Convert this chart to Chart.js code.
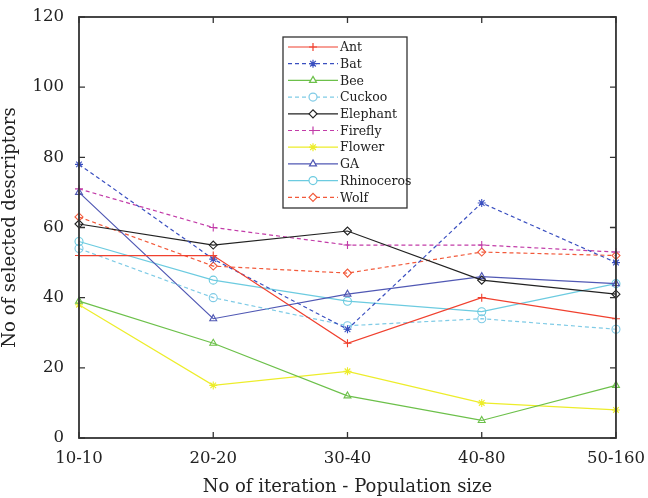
<!DOCTYPE html>
<html>
<head>
<meta charset="utf-8">
<script src="https://cdn.jsdelivr.net/npm/chart.js@4/dist/chart.umd.min.js"></script>
<style>
  html, body { margin: 0; padding: 0; background: #fff; }
</style>
</head>
<body>
<canvas id="chart" width="648" height="498"></canvas>
<script>
const categories = ["10-10", "20-20", "30-40", "40-80", "50-160"];
const yTicks = [0, 20, 40, 60, 80, 100, 120];

const ant = [52, 52, 27, 40, 34];
const bat = [78, 51, 31, 67, 50];
const bee = [39, 27, 12, 5, 15];
const cuckoo = [54, 40, 32, 34, 31];
const elephant = [61, 55, 59, 45, 41];
const firefly = [71, 60, 55, 55, 53];
const flower = [38, 15, 19, 10, 8];
const ga = [70, 34, 41, 46, 44];
const rhinoceros = [56, 45, 39, 36, 44];
const wolf = [63, 49, 47, 53, 52];

function serie(label, data, color, dashed, marker) {
  return {
    label: label,
    data: data,
    borderColor: color,
    pointBorderColor: color,
    pointBackgroundColor: (marker === "star") ? color : "rgba(255,255,255,0)",
    borderWidth: 1.2,
    borderDash: dashed ? [4, 3] : [],
    pointStyle: marker,
    pointRadius: 4,
    pointBorderWidth: 1.1,
    tension: 0,
    clip: false,
  };
}

const datasets = [
  serie("Ant", ant, "#f0402e", false, "cross"),
  serie("Bat", bat, "#3a4fc0", true, "star"),
  serie("Bee", bee, "#6cc04a", false, "triangle"),
  serie("Cuckoo", cuckoo, "#7fcbe6", true, "circle"),
  serie("Elephant", elephant, "#222222", false, "rectRot"),
  serie("Firefly", firefly, "#c23ca8", true, "cross"),
  serie("Flower", flower, "#eded2a", false, "star"),
  serie("GA", ga, "#5058b4", false, "triangle"),
  serie("Rhinoceros", rhinoceros, "#6ccbe0", false, "circle"),
  serie("Wolf", wolf, "#f2593a", true, "rectRot"),
];

// matlab-like frame with inward ticks
const frame = {
  id: "frame",
  afterDraw(chart) {
    const ctx = chart.ctx, a = chart.chartArea;
    const xs = chart.scales.x, ys = chart.scales.y;
    ctx.save();
    ctx.strokeStyle = "#333";
    ctx.lineWidth = 1.8;
    ctx.setLineDash([]);
    ctx.strokeRect(a.left, a.top, a.right - a.left, a.bottom - a.top);
    ctx.lineWidth = 1.3;
    ctx.beginPath();
    yTicks.forEach(v => {
      const y = ys.getPixelForValue(v);
      ctx.moveTo(a.left, y); ctx.lineTo(a.left + 6, y);
      ctx.moveTo(a.right, y); ctx.lineTo(a.right - 6, y);
    });
    categories.forEach((c, i) => {
      const x = xs.getPixelForValue(i);
      ctx.moveTo(x, a.bottom); ctx.lineTo(x, a.bottom - 6);
      ctx.moveTo(x, a.top); ctx.lineTo(x, a.top + 6);
    });
    ctx.stroke();
    ctx.restore();
  }
};

const legendBox = {
  id: "legendBox",
  afterDraw(chart) {
    const ctx = chart.ctx, a = chart.chartArea;
    const x0 = a.left + 204, y0 = a.top + 20;
    const w = 124, h = 171, rowH = 16.7;
    ctx.save();
    ctx.fillStyle = "#fff";
    ctx.fillRect(x0, y0, w, h);
    ctx.strokeStyle = "#333";
    ctx.lineWidth = 1.3;
    ctx.strokeRect(x0, y0, w, h);
    ctx.font = "12.5px 'DejaVu Serif'";
    ctx.textBaseline = "middle";
    chart.data.datasets.forEach((ds, i) => {
      const y = y0 + 10 + i * rowH;
      ctx.strokeStyle = ds.borderColor;
      ctx.lineWidth = 1.2;
      ctx.setLineDash(ds.borderDash);
      ctx.beginPath();
      ctx.moveTo(x0 + 5, y); ctx.lineTo(x0 + 55, y);
      ctx.stroke();
      ctx.setLineDash([]);
      ctx.fillStyle = ds.pointStyle === "star" ? ds.borderColor : "#fff";
      Chart.helpers.drawPoint(ctx, { pointStyle: ds.pointStyle, radius: 4, borderWidth: 1.1, rotation: 0 }, x0 + 30, y);
      ctx.fillStyle = "#222";
      ctx.fillText(ds.label, x0 + 57, y + 1);
    });
    ctx.restore();
  }
};

const ctx = document.getElementById("chart").getContext("2d");
const myChart = new Chart(ctx, {
  type: "line",
  data: { labels: categories, datasets: datasets },
  options: {
    responsive: false,
    animation: false,
    layout: { padding: { left: 0, right: 32, top: 17, bottom: 0 } },
    plugins: { legend: { display: false }, tooltip: { enabled: false } },
    scales: {
      x: {
        offset: false,
        grid: { display: false },
        border: { display: false },
        ticks: { color: "#222", font: { family: "DejaVu Serif", size: 16.5 }, padding: 3, maxRotation: 0 },
        title: { display: true, text: "No of iteration - Population size", color: "#222", font: { family: "DejaVu Serif", size: 18 }, padding: 0 },
        afterFit(scale) { scale.height = 60; },
      },
      y: {
        min: 0,
        max: 120,
        afterBuildTicks(scale) { scale.ticks = yTicks.map(v => ({ value: v })); },
        grid: { display: false },
        border: { display: false },
        ticks: { color: "#222", font: { family: "DejaVu Serif", size: 16.5 }, padding: 7 },
        title: { display: true, text: "No of selected descriptors", color: "#222", font: { family: "DejaVu Serif", size: 18 }, padding: 0 },
        afterFit(scale) { scale.width = 79; },
      },
    },
  },
  plugins: [frame, legendBox],
});
</script>
</body>
</html>
